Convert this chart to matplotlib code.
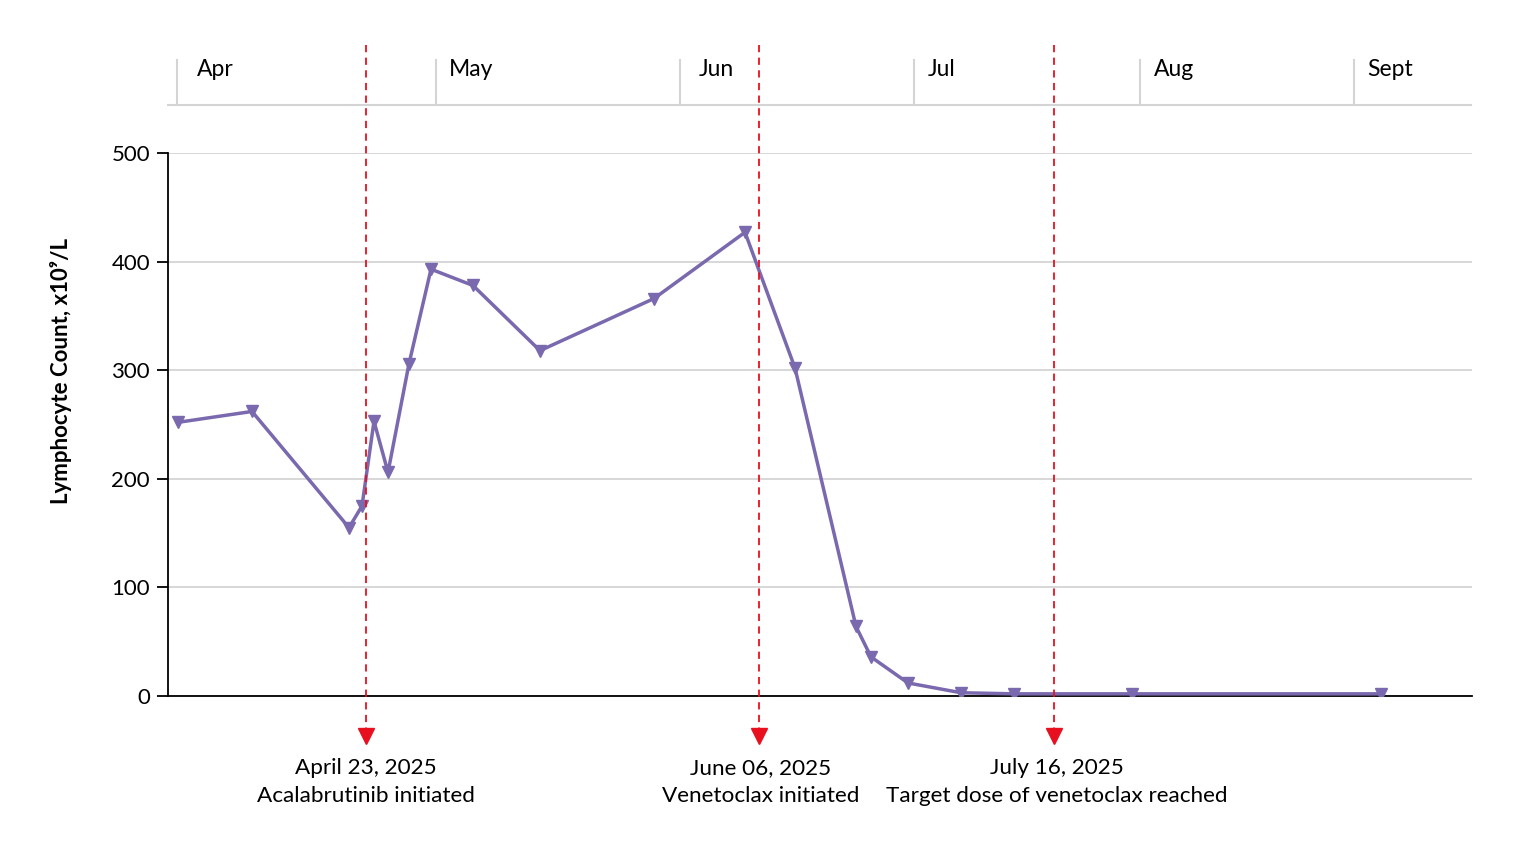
import matplotlib
matplotlib.use("Agg")
import matplotlib.pyplot as plt
from matplotlib.transforms import blended_transform_factory

plt.rcParams['font.family'] = ['Lato', 'DejaVu Sans']

# timeline position (relative units along the x axis) and lymphocyte counts
pos = [10, 84, 181, 194, 206, 220, 241, 263, 305, 372, 486, 577,
       627, 688, 703, 740, 793, 846, 964, 1213]
counts = [252, 262, 155, 175, 253, 206, 306, 393, 378, 318, 366, 427,
          302, 64, 36, 12, 3, 2, 2, 2]

months = ['Apr', 'May', 'Jun', 'Jul', 'Aug', 'Sept']
month_pos = [9, 268, 512, 746, 972, 1186]
month_label_pos = [29, 281, 531, 760, 986, 1199]

event_pos = [198, 591, 886]
event_label_pos = [198, 593, 889]
event_dates = ['April 23, 2025', 'June 06, 2025', 'July 16, 2025']
event_text = ['Acalabrutinib initiated', 'Venetoclax initiated',
              'Target dose of venetoclax reached']

purple = '#7a69ae'
red = '#e8101e'
grid = '#d4d4d4'

fig = plt.figure(figsize=(15.4, 8.51), dpi=100)
W, H = 1540, 851
ax = fig.add_axes([168 / W, 155 / H, 1304 / W, 543 / H])
ax.set_xlim(0, 1304)
ax.set_ylim(0, 500)

for s in ['top', 'right']:
    ax.spines[s].set_visible(False)
ax.spines['left'].set_linewidth(1.3)
ax.spines['bottom'].set_linewidth(1.3)
ax.set_xticks([])
ax.set_yticks([0, 100, 200, 300, 400, 500])
ax.tick_params(axis='y', length=8, width=1.3, labelsize=16, pad=5)
ax.yaxis.grid(True, color=grid, lw=1.3)
ax.set_axisbelow(True)
ax.set_ylabel('Lymphocyte Count, x10⁹/L', fontsize=16, fontweight='bold')
ax.yaxis.set_label_coords(-0.074, 0.598)

ax.plot(pos, counts, color=purple, lw=2.5, marker='v', markersize=8.5, zorder=3)

# month header band
tr = blended_transform_factory(ax.transData, fig.transFigure)
ax.plot([0, 1303], [(H - 105) / H] * 2, color=grid, lw=1.5, transform=tr, clip_on=False)
for mp, ml, lab in zip(month_pos, month_label_pos, months):
    ax.plot([mp, mp], [(H - 105) / H, (H - 60) / H], color=grid, lw=1.5,
            transform=tr, clip_on=False)
    ax.text(ml, (H - 69) / H, lab, transform=tr, fontsize=16.5, ha='left', va='center')

# treatment events
for ep, lp, d, t in zip(event_pos, event_label_pos, event_dates, event_text):
    ax.plot([ep, ep], [(H - 45) / H, (H - 730) / H], color=red, lw=1.3,
            ls=(0, (4, 3)), transform=tr, clip_on=False, zorder=4)
    ax.plot([ep], [(H - 736) / H], marker='v', color=red, markersize=11,
            transform=tr, clip_on=False, lw=0)
    ax.text(lp, (H - 768) / H, d, transform=tr, fontsize=16.2, ha='center', va='center')
    ax.text(lp, (H - 796) / H, t, transform=tr, fontsize=16.2, ha='center', va='center')

fig.savefig('out.png', dpi=100)
